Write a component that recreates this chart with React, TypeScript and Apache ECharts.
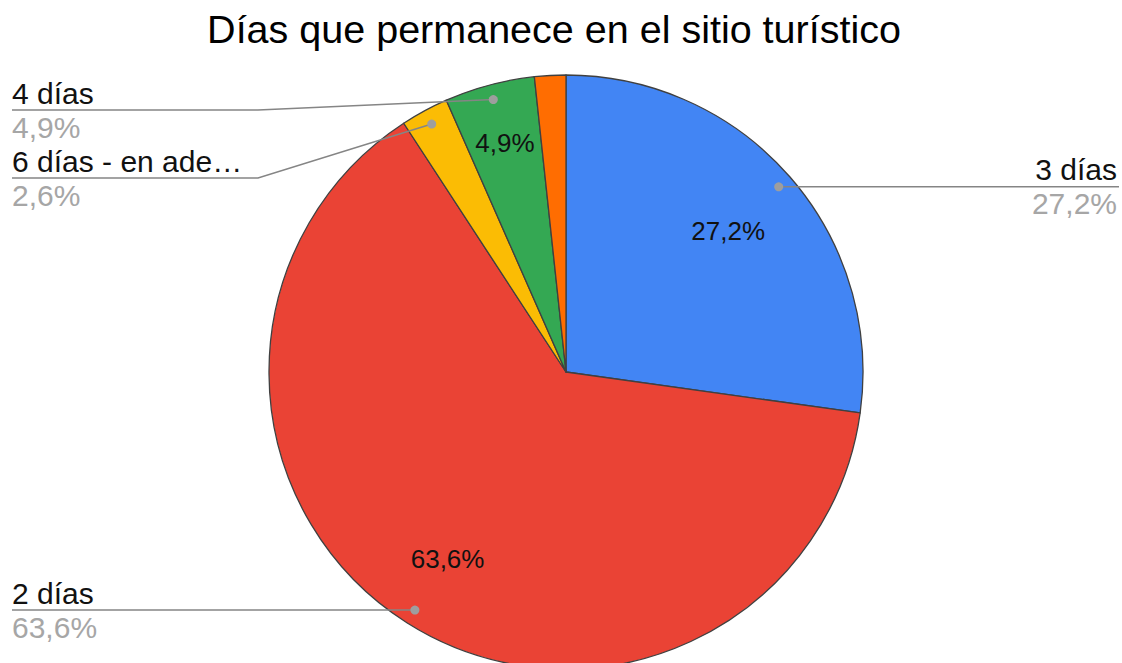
import React, { useEffect, useRef } from "react";
import * as echarts from "echarts";

// ---- data ----
const categories = ["3 días", "2 días", "6 días - en ade…", "4 días", "5 días"];
const values = [27.2, 63.6, 2.6, 4.9, 1.7];
const colors = ["#4285F4", "#EA4335", "#FBBC04", "#34A853", "#FF6D01"];
const innerLabelShown = [true, true, false, true, false];
const titleText = "Días que permanece en el sitio turístico";

// ---- layout ----
const FONT = "'Liberation Sans', Arial, sans-serif";
const CX = 566;
const CY = 372;
const R = 297;
const DOT_R = 282;
const innerLabelRadius = [215, 221, 0, 237, 0];
type OuterLayout = { side: "left" | "right"; underlineY: number | null; bendX: number | null } | null;
const outerLayout: OuterLayout[] = [
  { side: "right", underlineY: null, bendX: null },
  { side: "left", underlineY: null, bendX: null },
  { side: "left", underlineY: 178, bendX: 258 },
  { side: "left", underlineY: 110, bendX: 258 },
  null,
];

const total = values.reduce((a, b) => a + b, 0);
const fmt = (v: number) => ((v / total) * 100).toFixed(1).replace(".", ",") + "%";

function midPoint(i: number, r: number) {
  let cum = 0;
  for (let k = 0; k < i; k++) cum += values[k];
  const f = (cum + values[i] / 2) / total;
  const a = f * Math.PI * 2;
  return { x: CX + r * Math.sin(a), y: CY - r * Math.cos(a) };
}

export default function App() {
  const ref = useRef<HTMLDivElement>(null);
  useEffect(() => {
    if (!ref.current) return;
    const chart = echarts.init(ref.current, undefined, { renderer: "svg" });

    const graphics: any[] = [
      {
        type: "text",
        x: 554,
        y: 29,
        style: {
          text: titleText,
          font: `39.5px ${FONT}`,
          fill: "#000",
          align: "center",
          verticalAlign: "middle",
        },
      },
    ];

    values.forEach((v, i) => {
      const lay = outerLayout[i];
      if (!lay) return;
      const dot = midPoint(i, DOT_R);
      const U = lay.underlineY ?? dot.y;
      const left = lay.side === "left";
      const edgeX = left ? 12 : 1119;
      const pts: number[][] = [[edgeX, U]];
      if (lay.bendX != null) pts.push([lay.bendX, U]);
      else pts.push([dot.x, U]);
      pts.push([dot.x, dot.y]);
      graphics.push({
        type: "polyline",
        z: 10,
        shape: { points: pts },
        style: { stroke: "#858585", lineWidth: 1.5, fill: null },
      });
      graphics.push({
        type: "circle",
        z: 11,
        shape: { cx: dot.x, cy: dot.y, r: 4.5 },
        style: { fill: "#9e9e9e" },
      });
      graphics.push({
        type: "text",
        z: 11,
        x: left ? 12 : 1117,
        y: U - 17,
        style: {
          text: categories[i],
          font: `30px ${FONT}`,
          lineHeight: 28,
          fill: "#111",
          align: left ? "left" : "right",
          verticalAlign: "middle",
        },
      });
      graphics.push({
        type: "text",
        z: 11,
        x: left ? 12 : 1117,
        y: U + 17,
        style: {
          text: fmt(v),
          font: `30px ${FONT}`,
          lineHeight: 28,
          fill: "#a6a6a6",
          align: left ? "left" : "right",
          verticalAlign: "middle",
        },
      });
    });

    chart.setOption({
      animation: false,
      backgroundColor: "#ffffff",
      graphic: graphics,
      series: [
        {
          type: "pie",
          center: [CX, CY],
          radius: [0, R],
          startAngle: 90,
          clockwise: true,
          avoidLabelOverlap: false,
          silent: true,
          itemStyle: { borderColor: "#404040", borderWidth: 1.3 },
          label: {
            show: true,
            position: "inside",
            formatter: (p: any) => fmt(p.value),
            color: "#111",
            fontSize: 26,
            fontFamily: FONT,
          },
          labelLine: { show: false },
          labelLayout: (p: any) => {
            const pt = midPoint(p.dataIndex, innerLabelRadius[p.dataIndex] || 200);
            return { x: pt.x, y: pt.y, align: "center", verticalAlign: "middle" };
          },
          data: categories.map((name, i) => ({
            name,
            value: values[i],
            itemStyle: { color: colors[i] },
            label: { show: innerLabelShown[i] },
          })),
        },
      ],
    });
    return () => chart.dispose();
  }, []);
  return (
    <div
      ref={ref}
      style={{ position: "fixed", left: 0, top: 0, width: 1122, height: 663, background: "#fff" }}
    />
  );
}
